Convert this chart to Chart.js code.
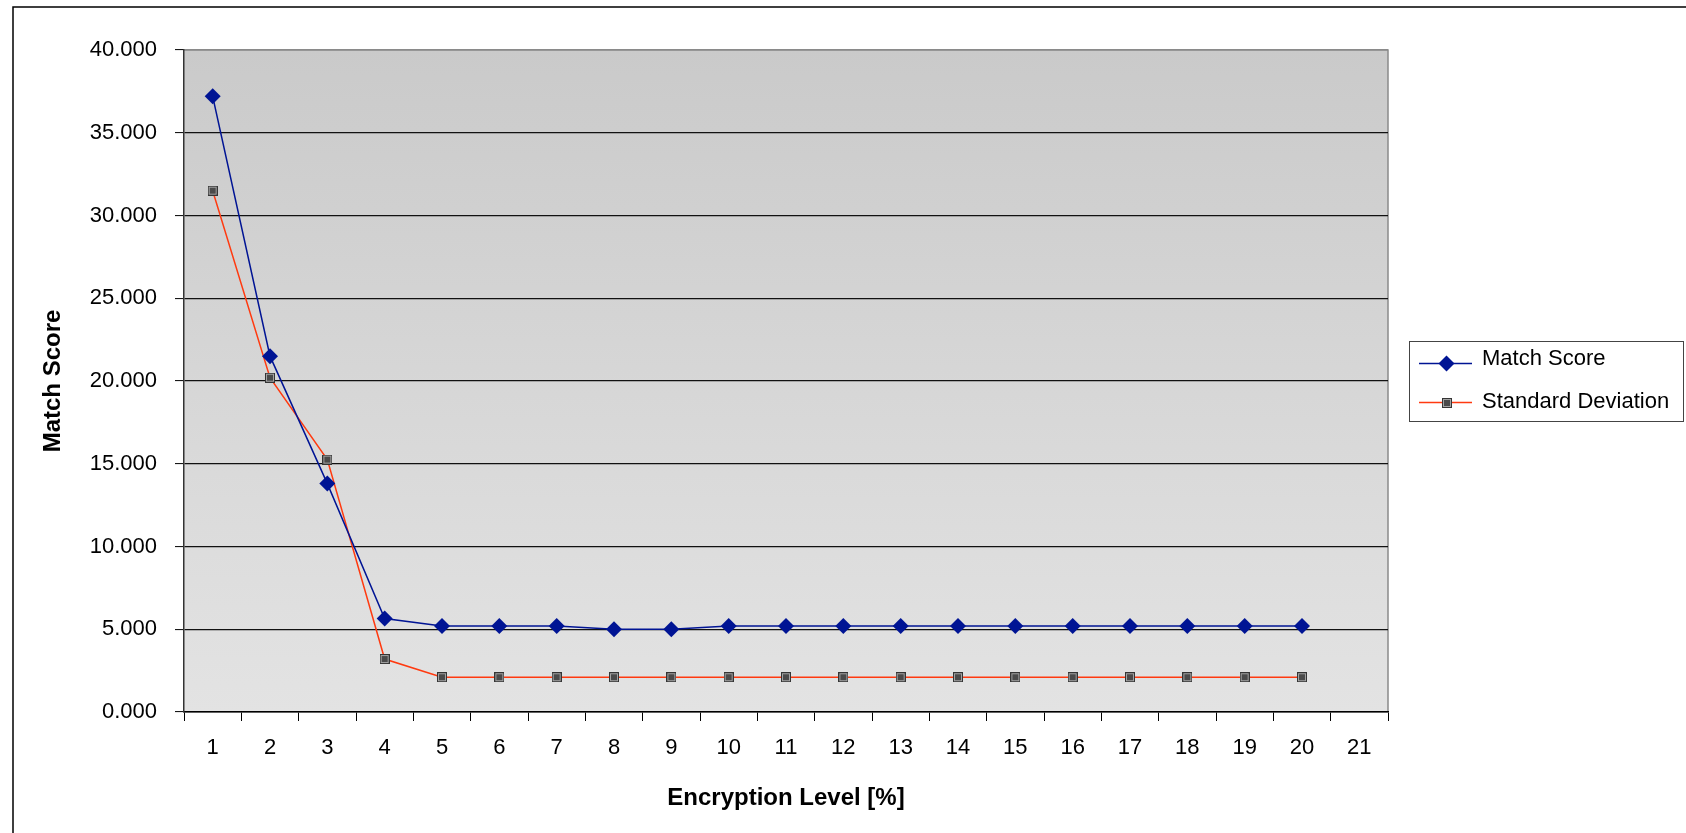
<!DOCTYPE html>
<html>
<head>
<meta charset="utf-8">
<title>Match Score vs Encryption Level</title>
<script src="https://cdn.jsdelivr.net/npm/chart.js@4.4.1/dist/chart.umd.min.js"></script>
<style>
  html, body { margin: 0; padding: 0; background: #ffffff; }
  canvas { display: block; }
</style>
</head>
<body>
<canvas id="chart" width="1686" height="833"></canvas>
<script>
// Encryption levels on the x axis
const levels = ['1', '2', '3', '4', '5', '6', '7', '8', '9', '10', '11', '12', '13', '14', '15', '16', '17', '18', '19', '20', '21'];

// Measured series (one value per level; level 21 has no measurement)
const matchScore = [37.2, 21.5, 13.8, 5.65, 5.2, 5.2, 5.2, 5.0, 5.0, 5.2, 5.2, 5.2, 5.2, 5.2, 5.2, 5.2, 5.2, 5.2, 5.2, 5.2, null];
const standardDeviation = [31.5, 20.2, 15.25, 3.2, 2.1, 2.1, 2.1, 2.1, 2.1, 2.1, 2.1, 2.1, 2.1, 2.1, 2.1, 2.1, 2.1, 2.1, 2.1, 2.1, null];

const seriesNames = ['Match Score', 'Standard Deviation'];

const FONT = '"Liberation Sans", Arial, Helvetica, sans-serif';
const NAVY = '#001494';
const RED = '#ff3a10';

// Square marker: dark frame, light ring, dark centre
function makeSquareMarker(size) {
  const c = document.createElement('canvas');
  c.width = size; c.height = size;
  const g = c.getContext('2d');
  g.fillStyle = '#353535';
  g.fillRect(0, 0, size, size);
  g.fillStyle = '#a3a3a3';
  g.fillRect(1, 1, size - 2, size - 2);
  g.fillStyle = '#4a4a4a';
  g.fillRect(2, 2, size - 4, size - 4);
  return c;
}
const squareMarker = makeSquareMarker(10);

// Grey plot-area fill with a light top/right frame
const plotBackground = {
  id: 'plotBackground',
  beforeDraw(chart) {
    const { ctx, chartArea: a } = chart;
    ctx.save();
    const grad = ctx.createLinearGradient(0, a.top, 0, a.bottom);
    grad.addColorStop(0, '#cacaca');
    grad.addColorStop(1, '#e3e3e3');
    ctx.fillStyle = grad;
    ctx.fillRect(a.left, a.top, a.right - a.left, a.bottom - a.top);
    ctx.strokeStyle = '#8a8a8a';
    ctx.lineWidth = 1.5;
    ctx.beginPath();
    ctx.moveTo(a.left, a.top);
    ctx.lineTo(a.right, a.top);
    ctx.lineTo(a.right, a.bottom);
    ctx.stroke();
    ctx.restore();
  }
};

// Outer frame of the chart object
const chartFrame = {
  id: 'chartFrame',
  afterDraw(chart) {
    const { ctx } = chart;
    ctx.save();
    ctx.strokeStyle = '#000';
    ctx.lineWidth = 1.5;
    ctx.beginPath();
    ctx.moveTo(13, chart.height + 5);
    ctx.lineTo(13, 7);
    ctx.lineTo(chart.width + 5, 7);
    ctx.stroke();
    ctx.restore();
  }
};

// Boxed legend on the right-hand side
const boxedLegend = {
  id: 'boxedLegend',
  afterDraw(chart) {
    const { ctx } = chart;
    const ds = chart.data.datasets;
    const box = { x: 1409, y: 341, w: 274, h: 80 };
    ctx.save();
    ctx.fillStyle = '#fff';
    ctx.fillRect(box.x, box.y, box.w, box.h);
    ctx.strokeStyle = '#444';
    ctx.lineWidth = 1;
    ctx.strokeRect(box.x + 0.5, box.y + 0.5, box.w, box.h);

    const rows = [
      { lineY: 363.5, textY: 365 },
      { lineY: 402.5, textY: 408 }
    ];
    ds.forEach((d, i) => {
      const r = rows[i];
      ctx.strokeStyle = d.borderColor;
      ctx.lineWidth = 1.5;
      ctx.beginPath();
      ctx.moveTo(1419, r.lineY);
      ctx.lineTo(1472, r.lineY);
      ctx.stroke();
      const mx = 1446.5;
      if (d.pointStyle === 'rectRot') {
        const rr = d.pointRadius;
        ctx.fillStyle = d.pointBackgroundColor;
        ctx.beginPath();
        ctx.moveTo(mx - rr, r.lineY);
        ctx.lineTo(mx, r.lineY - rr);
        ctx.lineTo(mx + rr, r.lineY);
        ctx.lineTo(mx, r.lineY + rr);
        ctx.closePath();
        ctx.fill();
      } else {
        const img = d.pointStyle;
        ctx.drawImage(img, Math.round(mx - img.width / 2), Math.round(r.lineY - img.height / 2));
      }
      ctx.fillStyle = '#000';
      ctx.font = '22px ' + FONT;
      ctx.textBaseline = 'alphabetic';
      ctx.textAlign = 'left';
      ctx.fillText(d.label, 1482, r.textY);
    });
    ctx.restore();
  }
};

new Chart(document.getElementById('chart'), {
  type: 'line',
  data: {
    labels: levels,
    datasets: [
      {
        label: seriesNames[0],
        data: matchScore,
        borderColor: NAVY,
        borderWidth: 1.5,
        pointStyle: 'rectRot',
        pointRadius: 8,
        pointHoverRadius: 8,
        pointBackgroundColor: NAVY,
        pointBorderColor: NAVY,
        pointBorderWidth: 0,
        tension: 0,
        spanGaps: false
      },
      {
        label: seriesNames[1],
        data: standardDeviation,
        borderColor: RED,
        borderWidth: 1.5,
        pointStyle: squareMarker,
        pointRadius: 5,
        pointHoverRadius: 5,
        tension: 0,
        spanGaps: false
      }
    ]
  },
  options: {
    responsive: false,
    animation: false,
    events: [],
    layout: { padding: { left: 0, top: 50, right: 298, bottom: 0 } },
    plugins: {
      legend: { display: false },
      tooltip: { enabled: false }
    },
    scales: {
      x: {
        type: 'category',
        offset: true,
        afterFit(scale) { scale.height = 121; },
        grid: {
          offset: true,
          drawOnChartArea: false,
          drawTicks: true,
          tickLength: 9,
          tickColor: '#000',
          tickWidth: 1
        },
        border: { display: true, color: '#000', width: 1.5 },
        ticks: {
          color: '#000',
          font: { family: FONT, size: 22 },
          padding: 14,
          maxRotation: 0,
          autoSkip: false
        },
        title: {
          display: true,
          text: 'Encryption Level [%]',
          color: '#000',
          font: { family: FONT, size: 24, weight: 'bold' },
          padding: { top: 0, bottom: 20 }
        }
      },
      y: {
        min: 0,
        max: 40,
        afterFit(scale) { scale.width = 184; },
        grid: {
          color: (c) => (c.tick && c.tick.value === 40 ? '#8a8a8a' : '#111'),
          lineWidth: 1.2,
          drawTicks: true,
          tickLength: 9,
          tickColor: '#000',
          tickWidth: 1
        },
        border: { display: true, color: '#333', width: 1.5 },
        ticks: {
          stepSize: 5,
          color: '#000',
          font: { family: FONT, size: 22 },
          padding: 18,
          callback: (v) => Number(v).toFixed(3)
        },
        title: {
          display: true,
          text: 'Match Score',
          color: '#000',
          font: { family: FONT, size: 24, weight: 'bold' },
          padding: { top: 39, bottom: 0 }
        }
      }
    }
  },
  plugins: [plotBackground, chartFrame, boxedLegend]
});
</script>
</body>
</html>
